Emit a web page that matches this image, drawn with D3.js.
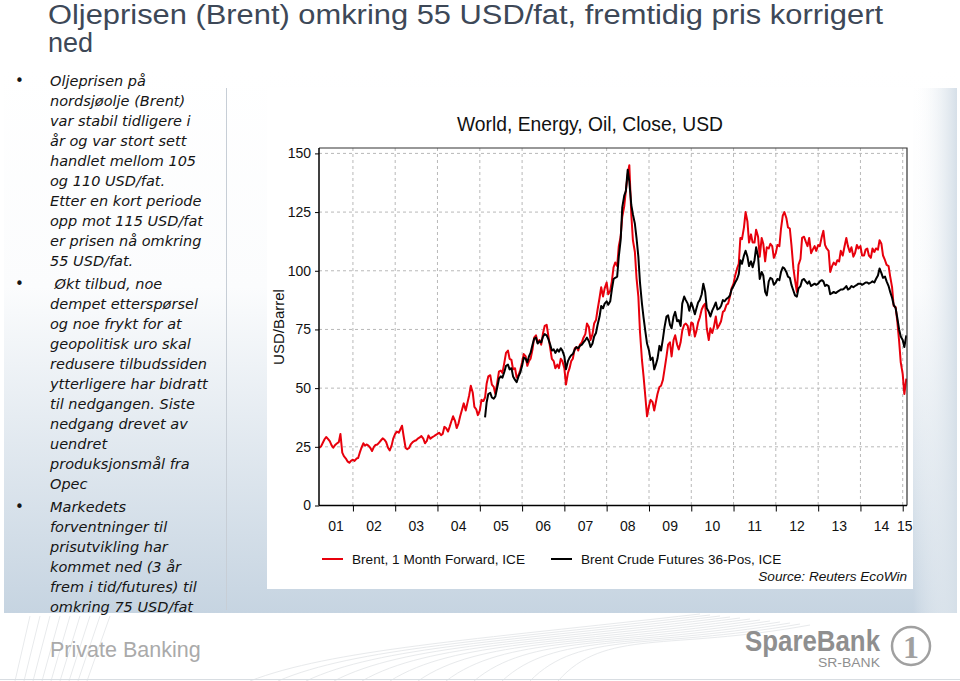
<!DOCTYPE html>
<html><head><meta charset="utf-8">
<script src="https://cdn.jsdelivr.net/npm/d3@7"></script>
<style>
html,body{margin:0;padding:0;background:#fff;}
svg{display:block;}
</style></head><body>
<svg id="c" width="960" height="681"></svg>
<script>
// ---------------- data ----------------
const slideTitle = ["Oljeprisen (Brent) omkring 55 USD/fat, fremtidig pris korrigert", "ned"];
const bulletParas = [
  ["Oljeprisen på","nordsjøolje (Brent)","var stabil tidligere i","år og var stort sett","handlet mellom 105","og 110 USD/fat.","Etter en kort periode","opp mot 115 USD/fat","er prisen nå omkring","55 USD/fat."],
  [" Økt tilbud, noe","dempet etterspørsel","og noe frykt for at","geopolitisk uro skal","redusere tilbudssiden","ytterligere har bidratt","til nedgangen. Siste","nedgang drevet av","uendret","produksjonsmål fra","Opec"],
  ["Markedets","forventninger til","prisutvikling har","kommet ned (3 år","frem i tid/futures) til","omkring 75 USD/fat"]
];
const chartTitle = "World, Energy, Oil, Close, USD";
const yAxisTitle = "USD/Barrel";
const yTicks = [0, 25, 50, 75, 100, 125, 150];
const yearTicks = [2002,2003,2004,2005,2006,2007,2008,2009,2010,2011,2012,2013,2014,2015];
const yearLabels = ["01","02","03","04","05","06","07","08","09","10","11","12","13","14","15"];
const xDomain = ["2001-03-14", "2015-02-07"];
const seriesNames = ["Brent, 1 Month Forward, ICE", "Brent Crude Futures 36-Pos, ICE"];
const sourceText = "Source: Reuters EcoWin";

// semi-monthly observations (15th / 1st of month)
const brentStart = "2001-03-15";
const brentValues = [
 24.5,25.2,26.6,28.2,29.2,28.3,27.4,25.6,24.6,25.8,26.4,27.0,30.5,22.5,21.0,20.0,18.8,18.2,19.0,
 19.5,19.0,20.0,20.2,22.5,24.5,26.5,25.5,26.0,25.5,24.5,23.2,25.0,25.8,26.0,26.8,27.8,28.6,28.0,27.0,24.5,23.5,25.5,28.5,
 30.5,31.5,31.0,32.5,34.0,29.5,24.5,24.0,24.5,26.0,27.0,27.5,27.8,28.5,29.0,29.6,28.5,26.5,27.5,29.8,28.5,29.0,29.5,30.0,
 30.5,31.0,30.0,30.5,33.5,33.0,31.5,33.5,36.0,38.0,36.0,33.0,35.0,38.0,41.0,43.5,40.5,43.5,47.0,51.0,48.0,42.0,41.0,38.5,
 40.5,45.0,44.5,46.0,52.0,55.0,55.5,51.5,50.5,47.5,52.5,57.0,57.5,56.5,61.0,65.0,66.0,62.5,62.0,58.0,58.5,54.5,55.5,57.5,
 61.0,64.5,63.5,59.5,61.5,62.5,66.5,71.5,72.5,69.5,70.5,68.5,73.5,76.5,77.0,72.5,67.0,62.5,61.5,58.5,60.0,58.5,62.5,61.5,
 58.5,51.5,56.5,58.5,61.5,62.5,67.0,67.5,66.0,68.5,69.5,71.5,73.0,77.5,76.0,70.5,73.0,77.5,79.0,83.5,88.5,93.0,89.0,92.5,
 95.0,90.0,91.5,95.5,101.5,103.5,102.0,110.5,114.5,123.0,127.5,134.0,141.0,145.0,124.0,113.0,108.0,97.0,89.0,74.0,62.0,55.0,46.0,38.0,
 42.5,45.0,44.0,40.5,44.0,47.5,50.5,51.0,53.5,58.0,63.5,68.5,69.5,63.5,70.5,72.5,68.5,66.5,69.5,74.5,77.0,77.5,76.5,72.5,
 78.0,77.5,72.0,74.5,78.0,80.0,83.5,85.0,86.0,75.5,70.5,75.5,73.5,76.0,80.5,75.5,77.0,78.5,82.5,83.0,85.5,86.0,89.0,92.5,
 94.5,98.0,101.0,103.0,114.0,113.5,118.5,125.0,121.0,112.0,115.5,112.0,112.0,117.5,114.5,106.0,114.0,111.5,104.0,110.0,109.5,111.5,110.5,105.5,
 107.5,111.0,110.5,118.0,123.5,125.0,122.5,118.5,118.0,111.0,101.0,96.0,91.0,102.5,105.0,114.0,114.5,112.5,110.5,114.0,107.5,109.0,110.5,108.5,
 111.0,110.5,114.5,117.0,111.0,109.5,108.5,99.5,102.0,103.5,102.5,104.5,104.0,108.5,106.5,110.0,114.0,110.5,108.0,110.0,106.0,107.5,111.0,109.5,
 110.5,106.5,106.5,109.0,109.5,106.5,105.5,109.5,108.0,109.5,109.0,113.0,111.5,106.5,104.5,102.5,102.0,97.5,93.0,85.0,84.5,78.5,70.0,61.0,
 56.0,47.5,54.0
];
const futuresStart = "2005-02-15";
const futuresValues = [
 37.5,44.0,47.5,48.0,46.0,45.5,46.5,50.5,54.0,55.0,54.5,57.0,59.5,60.0,58.0,58.5,55.0,53.5,52.5,55.0,56.5,
 59.5,63.0,62.5,61.0,63.5,65.0,68.5,71.0,71.5,69.0,70.0,69.5,72.0,73.0,72.5,71.0,68.5,66.0,66.5,65.0,66.5,65.5,67.0,66.0,
 63.5,58.0,61.5,63.0,64.0,64.5,66.5,67.5,67.0,68.0,68.5,69.5,70.5,71.5,70.0,67.5,69.0,72.0,73.5,77.0,80.5,85.0,84.0,86.0,
 87.0,85.5,87.0,92.0,96.5,97.0,97.5,106.0,113.0,127.0,132.0,134.0,143.0,138.0,128.0,124.0,120.0,114.0,106.0,95.0,86.0,80.0,74.0,69.0,
 66.0,62.0,63.0,58.0,60.0,62.5,68.0,66.0,71.0,76.0,80.5,81.0,77.0,75.5,80.5,82.5,78.5,79.0,76.5,86.0,89.0,87.5,86.0,83.0,
 86.5,84.5,81.5,84.0,86.5,87.5,90.0,94.5,91.0,84.0,82.5,80.5,83.0,84.5,86.5,83.5,84.0,85.0,87.5,87.0,88.0,88.5,89.5,92.0,
 93.5,95.0,96.5,98.5,104.5,103.0,106.5,108.5,106.0,102.0,104.0,101.5,104.5,110.0,106.0,96.5,99.5,98.0,91.0,89.5,95.5,97.0,96.5,94.0,
 95.0,96.5,96.0,99.5,101.5,101.0,99.5,97.5,97.0,94.0,91.5,89.5,89.0,92.5,93.5,96.0,96.5,95.5,94.5,95.5,93.5,94.0,94.5,94.0,
 94.5,95.5,96.0,95.5,93.5,94.0,93.5,90.0,90.5,91.0,90.5,91.0,91.5,92.0,92.0,92.5,93.5,92.0,92.5,93.5,93.0,93.5,94.0,94.5,
 94.5,94.0,94.5,95.0,95.0,94.5,95.0,95.5,95.0,96.5,98.0,101.0,99.0,97.0,97.5,95.5,93.5,91.0,88.5,85.5,84.0,80.0,75.0,72.0,
 70.5,67.5,72.5
];

// ---------------- helpers ----------------
const parse = d3.timeParse("%Y-%m-%d");
function semiMonthly(start, values) {
  const s = parse(start);
  return values.map((v, i) => {
    const m = Math.floor((i + 1) / 2);
    return { date: new Date(s.getFullYear(), s.getMonth() + m, i % 2 === 0 ? 15 : 1), value: v };
  });
}
const brent = semiMonthly(brentStart, brentValues);
const futures = semiMonthly(futuresStart, futuresValues);

const svg = d3.select("#c");
const defs = svg.append("defs");

// ---------------- slide background ----------------
const g1 = defs.append("linearGradient").attr("id", "bg").attr("x1", 0).attr("y1", 0).attr("x2", 0).attr("y2", 1);
g1.append("stop").attr("offset", "0").attr("stop-color", "#ffffff");
g1.append("stop").attr("offset", "0.4").attr("stop-color", "#fbfcfd");
g1.append("stop").attr("offset", "1").attr("stop-color", "#c6d4e1");
svg.append("rect").attr("x", 0).attr("y", 0).attr("width", 960).attr("height", 681).attr("fill", "#fff");
svg.append("rect").attr("x", 4).attr("y", 70).attr("width", 953).attr("height", 543).attr("fill", "url(#bg)");
const g2 = defs.append("linearGradient").attr("id", "rside").attr("x1", 0).attr("y1", 0).attr("x2", 1).attr("y2", 0);
g2.append("stop").attr("offset", "0").attr("stop-color", "#ffffff").attr("stop-opacity", 0);
g2.append("stop").attr("offset", "1").attr("stop-color", "#d5dfe8").attr("stop-opacity", 1);
svg.append("rect").attr("x", 913).attr("y", 88).attr("width", 44).attr("height", 525).attr("fill", "url(#rside)");

// left separator
svg.append("line").attr("x1", 226.5).attr("x2", 226.5).attr("y1", 88).attr("y2", 610)
  .attr("stroke", "#c7ced6").attr("stroke-width", 1);

// footer
svg.append("rect").attr("x", 0).attr("y", 613).attr("width", 960).attr("height", 68).attr("fill", "#fff");
const foot = svg.append("g").attr("fill", "none").attr("stroke", "#e8eaec").attr("stroke-width", 1);
for (let k = 0; k < 12; k++) {
  foot.append("path").attr("d", `M${250 + k * 28},681 C${330 + k * 25},${650 - k * 2} ${470 + k * 18},${640 + k} ${700 + k * 10},${614 + k}`);
}
for (let k = 0; k < 9; k++) {
  foot.append("path").attr("d", `M${15 + k * 9},681 L${30 + k * 10},616`);
}
svg.append("line").attr("x1", 0).attr("x2", 960).attr("y1", 679.5).attr("y2", 679.5).attr("stroke", "#d8dde2");
svg.append("text").attr("x", 50).attr("y", 657).attr("font-family", "Liberation Sans, Arial, sans-serif")
  .attr("font-size", 21.5).attr("fill", "#aaaaaa").text("Private Banking");
svg.append("text").attr("x", 745).attr("y", 651).attr("font-family", "Liberation Sans, Arial, sans-serif")
  .attr("font-size", 29).attr("font-weight", "bold").attr("fill", "#8f8f8f")
  .attr("textLength", 135).attr("lengthAdjust", "spacingAndGlyphs").text("SpareBank");
svg.append("text").attr("x", 818).attr("y", 667).attr("font-family", "Liberation Sans, Arial, sans-serif")
  .attr("font-size", 12.5).attr("fill", "#8f8f8f")
  .attr("textLength", 62).attr("lengthAdjust", "spacingAndGlyphs").text("SR-BANK");
svg.append("circle").attr("cx", 911).attr("cy", 646).attr("r", 19).attr("fill", "none").attr("stroke", "#a0a0a0").attr("stroke-width", 2.5);
svg.append("text").attr("x", 911).attr("y", 658).attr("text-anchor", "middle").attr("font-family", "Liberation Serif, serif")
  .attr("font-size", 32).attr("font-weight", "bold").attr("fill", "#a0a0a0").text("1");

// ---------------- slide title ----------------
svg.append("text").attr("x", 48).attr("y", 24).attr("font-family", "Liberation Sans, Arial, sans-serif")
  .attr("font-size", 27).attr("fill", "#3d4857")
  .attr("textLength", 835).attr("lengthAdjust", "spacingAndGlyphs").text(slideTitle[0]);
svg.append("text").attr("x", 48).attr("y", 52).attr("font-family", "Liberation Sans, Arial, sans-serif")
  .attr("font-size", 27).attr("fill", "#3d4857").text(slideTitle[1]);

// ---------------- bullet text ----------------
const bt = svg.append("g").attr("font-family", "DejaVu Sans, Verdana, sans-serif").attr("font-size", 14.5)
  .attr("fill", "#151515");
let by = 86;
bulletParas.forEach((para, pi) => {
  bt.append("text").attr("x", 15).attr("y", by).attr("font-size", 15).text("•");
  para.forEach((line, li) => {
    bt.append("text").attr("x", 50).attr("y", by + li * 20).attr("font-style", "italic")
      .style("white-space", "pre").text(line);
  });
  by += para.length * 20 + 3;
});

// ---------------- chart ----------------
svg.append("rect").attr("x", 267).attr("y", 88).attr("width", 646).attr("height", 501).attr("fill", "#fff");

const L = 319, R = 907, T = 148, B = 505.5;
const x = d3.scaleTime().domain(xDomain.map(parse)).range([L, R]);
const y = d3.scaleLinear().domain([0, 152.3]).range([B, T]);
const F = "Liberation Sans, Arial, sans-serif";

svg.append("text").attr("x", 590).attr("y", 131).attr("text-anchor", "middle").attr("font-family", F)
  .attr("font-size", 19.3).attr("fill", "#111").text(chartTitle);

// grid
const grid = svg.append("g").attr("stroke", "#b8b8b8").attr("stroke-dasharray", "3,3").attr("stroke-width", 1);
yTicks.filter(v => v > 0).forEach(v => {
  grid.append("line").attr("x1", L).attr("x2", R).attr("y1", y(v)).attr("y2", y(v));
});
yearTicks.forEach(yr => {
  const px = x(new Date(yr, 0, 1));
  grid.append("line").attr("x1", px).attr("x2", px).attr("y1", T).attr("y2", B);
});

// series
defs.append("clipPath").attr("id", "plotclip").append("rect").attr("x", L).attr("y", T).attr("width", R - L).attr("height", B - T);
const line = d3.line().x(d => x(d.date)).y(d => y(d.value));
const plot = svg.append("g").attr("clip-path", "url(#plotclip)");
plot.append("path").datum(brent).attr("d", line).attr("fill", "none").attr("stroke", "#e8000c").attr("stroke-width", 2).attr("stroke-linejoin", "round");
plot.append("path").datum(futures).attr("d", line).attr("fill", "none").attr("stroke", "#000").attr("stroke-width", 2).attr("stroke-linejoin", "round");

// frame
svg.append("path").attr("d", `M${L},${T}H${R}V${B}`).attr("fill", "none").attr("stroke", "#333").attr("stroke-width", 1.2);

// y axis
const yAxis = d3.axisLeft(y).tickValues(yTicks).tickSize(4).tickPadding(4);
const ya = svg.append("g").attr("transform", `translate(${L},0)`).call(yAxis);
ya.select(".domain").attr("stroke", "#000").attr("stroke-width", 1.5).attr("d", `M0,${T}V${B}`);
ya.selectAll(".tick line").attr("stroke", "#000");
ya.selectAll("text").attr("font-family", F).attr("font-size", 14).attr("fill", "#111");

// x axis
const xAxis = d3.axisBottom(x).tickValues(yearTicks.map(yr => new Date(yr, 0, 1))).tickSize(6).tickFormat("");
const xa = svg.append("g").attr("transform", `translate(0,${B})`).call(xAxis);
xa.select(".domain").attr("stroke", "#000").attr("stroke-width", 1.5).attr("d", `M${L},0H${R}`);
xa.selectAll(".tick line").attr("stroke", "#000");
yearLabels.forEach((lab, i) => {
  const yr = 2001 + i;
  const a = Math.max(x(new Date(yr, 0, 1)), L);
  const b = Math.min(x(new Date(yr + 1, 0, 1)), R);
  svg.append("text").attr("x", (a + b) / 2).attr("y", 531).attr("text-anchor", "middle")
    .attr("font-family", F).attr("font-size", 14).attr("fill", "#111").text(lab);
});

svg.append("text").attr("transform", "translate(284,327) rotate(-90)").attr("text-anchor", "middle")
  .attr("font-family", F).attr("font-size", 15).attr("fill", "#111").text(yAxisTitle);

// legend
const legendX = [322, 551];
const colors = ["#e8000c", "#000"];
seriesNames.forEach((n, i) => {
  svg.append("line").attr("x1", legendX[i]).attr("x2", legendX[i] + 21).attr("y1", 559).attr("y2", 559)
    .attr("stroke", colors[i]).attr("stroke-width", 2);
  svg.append("text").attr("x", legendX[i] + 30).attr("y", 564).attr("font-family", F).attr("font-size", 13.6)
    .attr("fill", "#111").text(n);
});
svg.append("text").attr("x", 907).attr("y", 581).attr("text-anchor", "end").attr("font-family", F)
  .attr("font-size", 13.6).attr("font-style", "italic").attr("fill", "#111").text(sourceText);
</script>
</body></html>
